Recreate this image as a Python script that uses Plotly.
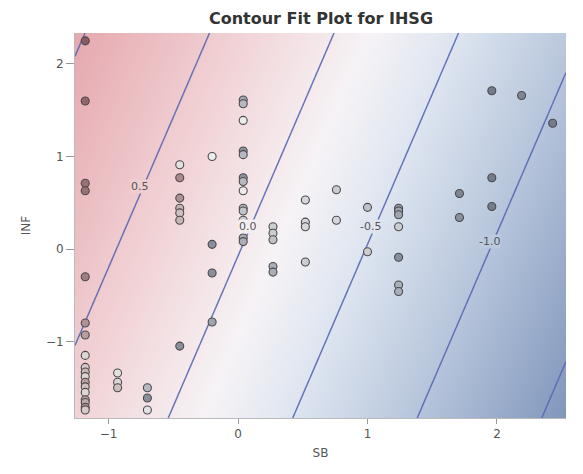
import numpy as np
import plotly.graph_objects as go

# ---- data ----
# fitted linear surface IHSG = b0 + b_sb*SB + b_inf*INF
fit_intercept = 0.012
fit_coef_sb = -0.52
fit_coef_inf = 0.16
contour_levels = [-1.5, -1.0, -0.5, 0.0, 0.5, 1.0]

sb_range = [-1.259, 2.533]
inf_range = [-1.827, 2.335]

# observations
obs_sb = ([-1.18] * 18 + [-0.93] * 3 + [-0.70] * 3 + [-0.45] * 7 + [-0.20] * 4 +
          [0.04] * 13 + [0.27] * 5 + [0.52] * 4 + [0.76] * 2 + [1.00] * 2 +
          [1.24] * 7 + [1.71] * 2 + [1.96] * 3 + [2.19] + [2.43])
obs_inf = [2.25, 1.60, 0.71, 0.63, -0.30, -0.80, -0.93, -1.15, -1.28, -1.33, -1.38, -1.44,
           -1.49, -1.55, -1.63, -1.66, -1.71, -1.74,
           -1.34, -1.44, -1.50,
           -1.50, -1.61, -1.74,
           0.91, 0.77, 0.55, 0.44, 0.39, 0.31, -1.05,
           1.00, 0.05, -0.26, -0.79,
           1.61, 1.57, 1.39, 1.06, 1.02, 0.77, 0.73, 0.63, 0.44, 0.41, 0.31, 0.12, 0.08,
           0.24, 0.17, 0.10, -0.19, -0.25,
           0.53, 0.29, 0.24, -0.14,
           0.64, 0.31,
           0.45, -0.03,
           0.44, 0.41, 0.37, 0.24, -0.09, -0.39, -0.46,
           0.60, 0.34,
           1.71, 0.77, 0.46,
           1.66,
           1.36]
obs_ihsg = [1.3, 1.2, 1.1, 1.1, 1.0, 0.8, 0.7, 0.2, 0.3, 0.5, 0.2, 0.7, 0.4, 0.2, 0.7, 0.6, 0.9, 0.3,
            0.1, 0.2, 0.4,
            -0.5, -0.9, -0.1,
            0.1, 0.9, 0.8, 0.5, 0.4, 0.5, -0.9,
            0.0, -0.9, -0.9, -0.7,
            -0.7, -0.5, 0.0, -0.9, -0.5, -0.9, -0.5, 0.0, -0.5, -0.4, -0.3, -0.6, -0.6,
            -0.3, -0.3, -0.4, -0.6, -0.6,
            -0.2, -0.2, -0.2, -0.3,
            -0.3, -0.2,
            -0.4, -0.3,
            -0.8, -0.7, -0.7, -0.3, -0.9, -0.6, -0.6,
            -1.0, -0.9,
            -1.1, -1.1, -1.1,
            -1.0,
            -1.1]

# contour label positions
label_text = ["0.5", "0.0", "-0.5", "-1.0"]
label_sb = [-0.757, 0.077, 1.02, 1.946]
label_inf = [0.68, 0.24, 0.24, 0.076]
label_bg = ["#efcdd1", "#f5eef1", "#dfe5ef", "#bccadf"]

# ---- surface grid ----
gx = np.linspace(sb_range[0], sb_range[1], 140)
gy = np.linspace(inf_range[0], inf_range[1], 140)
GX, GY = np.meshgrid(gx, gy)
GZ = fit_intercept + fit_coef_sb * GX + fit_coef_inf * GY

bg_scale = [
    [0.0, "rgb(128,150,187)"],
    [0.22, "rgb(180,195,218)"],
    [0.42, "rgb(222,229,240)"],
    [0.55, "rgb(246,243,246)"],
    [0.75, "rgb(241,210,213)"],
    [1.0, "rgb(229,168,174)"],
]

fig = go.Figure()
fig.add_trace(go.Contour(
    x=gx, y=gy, z=GZ,
    zmin=-1.6, zmax=1.05,
    colorscale=bg_scale, showscale=False,
    contours=dict(start=contour_levels[0], end=contour_levels[-1], size=0.5,
                  coloring="heatmap", showlabels=False),
    line=dict(color="rgba(88,104,178,0.9)", width=1.5),
    hoverinfo="skip",
))

fig.add_trace(go.Scatter(
    x=obs_sb, y=obs_inf, mode="markers",
    marker=dict(size=8, color=obs_ihsg, cmin=-1.6, cmax=1.6,
                colorscale=[[0, "#3d4761"], [0.5, "#ececec"], [1, "#743840"]],
                line=dict(color="#4a4a4a", width=1.1)),
    showlegend=False,
))

for t, xx, yy, bg in zip(label_text, label_sb, label_inf, label_bg):
    fig.add_annotation(x=xx, y=yy, text=t, showarrow=False,
                       font=dict(family="DejaVu Sans", size=11, color="#555555"),
                       bgcolor=bg, borderpad=0)

fig.update_layout(
    width=567, height=458,
    margin=dict(l=67, r=9, t=25, b=48),
    paper_bgcolor="white", plot_bgcolor="white",
    title=dict(text="<b>Contour Fit Plot for IHSG</b>", x=0.552, xanchor="center",
               y=0.978, yanchor="middle", yref="container",
               font=dict(family="DejaVu Sans", size=16, color="#333333")),
    xaxis=dict(range=sb_range, tickvals=[-1, 0, 1, 2], ticks="outside", ticklen=5,
               tickcolor="#999999", showgrid=False, zeroline=False,
               showline=True, linecolor="#bbbbbb", mirror=False,
               tickfont=dict(family="DejaVu Sans", size=12, color="#555555"),
               title=dict(text="SB", font=dict(family="DejaVu Sans", size=12, color="#555555"),
                          standoff=8)),
    yaxis=dict(range=inf_range, tickvals=[-1, 0, 1, 2], ticks="outside", ticklen=8,
               tickcolor="#999999", showgrid=False, zeroline=False,
               showline=True, linecolor="#bbbbbb",
               tickfont=dict(family="DejaVu Sans", size=12, color="#555555"),
               title=dict(text="INF", font=dict(family="DejaVu Sans", size=12, color="#555555"),
                          standoff=12)),
)

fig.write_html("out.html")
